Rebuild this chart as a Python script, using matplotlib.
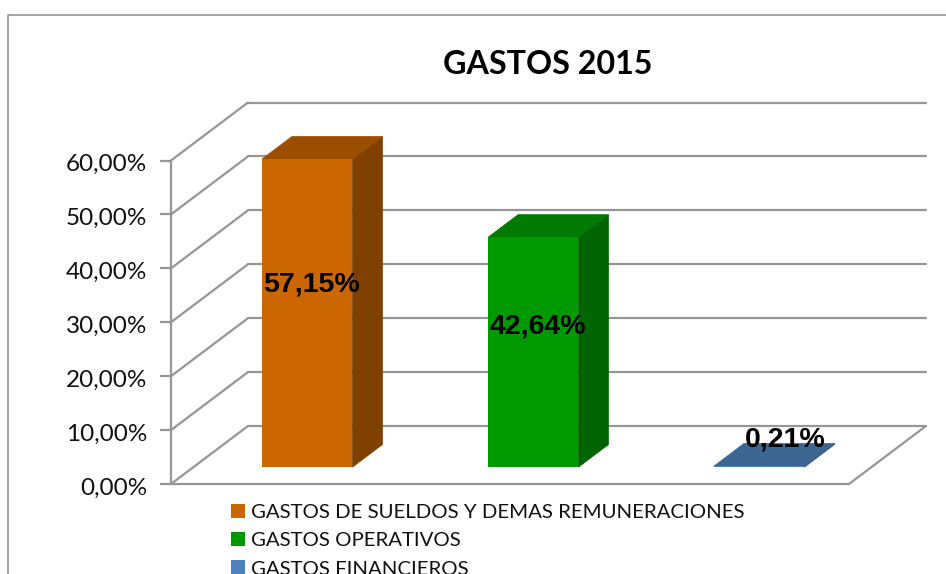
import matplotlib
matplotlib.use("Agg")
import matplotlib.pyplot as plt
from matplotlib.patches import Polygon, Patch
from matplotlib.transforms import Affine2D
from matplotlib.lines import Line2D

categories = ["GASTOS DE SUELDOS Y DEMAS REMUNERACIONES", "GASTOS OPERATIVOS", "GASTOS FINANCIEROS"]
values = [57.15, 42.64, 0.21]
value_labels = ["57,15%", "42,64%", "0,21%"]
ticks = [0, 10, 20, 30, 40, 50, 60]
tick_labels = ["0,00%", "10,00%", "20,00%", "30,00%", "40,00%", "50,00%", "60,00%"]
title = "GASTOS 2015"

W, H = 946, 574
front_c = ["#CC6600", "#009900", "#4F81BD"]
top_c = ["#9C4E00", "#007A00", "#3D6591"]
side_c = ["#804000", "#006400", "#33547A"]
GRID = "#969696"
DX, DY = 77, 58          # depth of the chart box, pixels
D0, D1 = 0.29, 0.68      # bar's depth span, fraction of box depth
BAR_W = 0.4

fig = plt.figure(figsize=(W / 100, H / 100), dpi=100, facecolor="white")
L, R, T, B = 171, 849, 160.5, 484
ax = fig.add_axes([L / W, 1 - B / H, (R - L) / W, (B - T) / H])
ax.set_xlim(0, 3)
ax.set_ylim(0, 60)
ax.patch.set_visible(False)
for s in ax.spines.values():
    s.set_visible(False)


def depth(d):
    return ax.transData + Affine2D().translate(DX * d, DY * d)


gl = dict(color=GRID, lw=1.6, clip_on=False, solid_capstyle="round", zorder=1)
for t in ticks:
    ax.plot([0, 3], [t, t], transform=depth(1), **gl)
    p0 = ax.transData.transform((0, t))
    ax.add_line(Line2D([p0[0], p0[0] + DX], [p0[1], p0[1] + DY], transform=None, **gl))
# floor edges
ax.plot([0, 3], [0, 0], **gl)
p = ax.transData.transform((3, 0))
ax.add_line(Line2D([p[0], p[0] + DX], [p[1], p[1] + DY], transform=None, **gl))
ax.plot([0, 0], [0, 60], **gl)

ax.set_yticks(ticks, tick_labels)
ax.set_xticks([])
ax.tick_params(axis="y", length=8, width=1.6, color=GRID, pad=9, labelsize=17.5, labelcolor="#111111")
for lab in ax.get_yticklabels():
    lab.set_fontfamily("Lato")
    lab.set_va("center")
    lab.set_transform(lab.get_transform() + Affine2D().translate(0, -4))

for i, v in enumerate(values):
    x0, x1 = i + 0.504 - BAR_W / 2, i + 0.504 + BAR_W / 2
    td0, td1 = depth(D0), depth(D1)
    a = td0.transform((x0, 0)); b = td0.transform((x1, 0))
    c = td0.transform((x1, v)); e = td0.transform((x0, v))
    f = td1.transform((x0, v)); g = td1.transform((x1, v)); h = td1.transform((x1, 0))
    ax.add_patch(Polygon([b, h, g, c], closed=True, transform=None, fc=side_c[i], ec=side_c[i], lw=0.5, zorder=3, clip_on=False))
    ax.add_patch(Polygon([e, c, g, f], closed=True, transform=None, fc=top_c[i], ec=top_c[i], lw=0.5, zorder=3, clip_on=False))
    ax.add_patch(Polygon([a, b, c, e], closed=True, transform=None, fc=front_c[i], ec="none", zorder=4, clip_on=False))

label_offsets = [(27, 45), (27, 43), (48, 44)]
for i, (v, s) in enumerate(zip(values, value_labels)):
    ax.annotate(s, xy=(i + 0.504, v / 2), xytext=label_offsets[i],
                textcoords="offset pixels", ha="center", va="center", fontsize=20.5, fontweight="bold",
                family="Liberation Sans", color="black", zorder=6, annotation_clip=False)

fig.text(548 / W, 1 - 65 / H, title, ha="center", va="center", fontsize=23.2, fontweight="bold", family="Lato", color="black")

# outer frame of the chart
fig.add_artist(Line2D([8 / W, 8 / W, 1], [0, 1 - 14.5 / H, 1 - 14.5 / H], color="#8C8C8C", lw=1.1))

handles = [Patch(fc=c, ec="none") for c in front_c]
fig.legend(handles, categories, loc="upper left", bbox_to_anchor=(231 / W, 1 - 504 / H),
           bbox_transform=fig.transFigure, frameon=False, ncol=1, borderpad=0, borderaxespad=0,
           handlelength=0.68, handleheight=0.68, handletextpad=0.3, labelspacing=0.54,
           prop={"family": "Lato", "size": 14.7}, labelcolor="#111111")

fig.savefig("out.png", dpi=100, facecolor="white")
